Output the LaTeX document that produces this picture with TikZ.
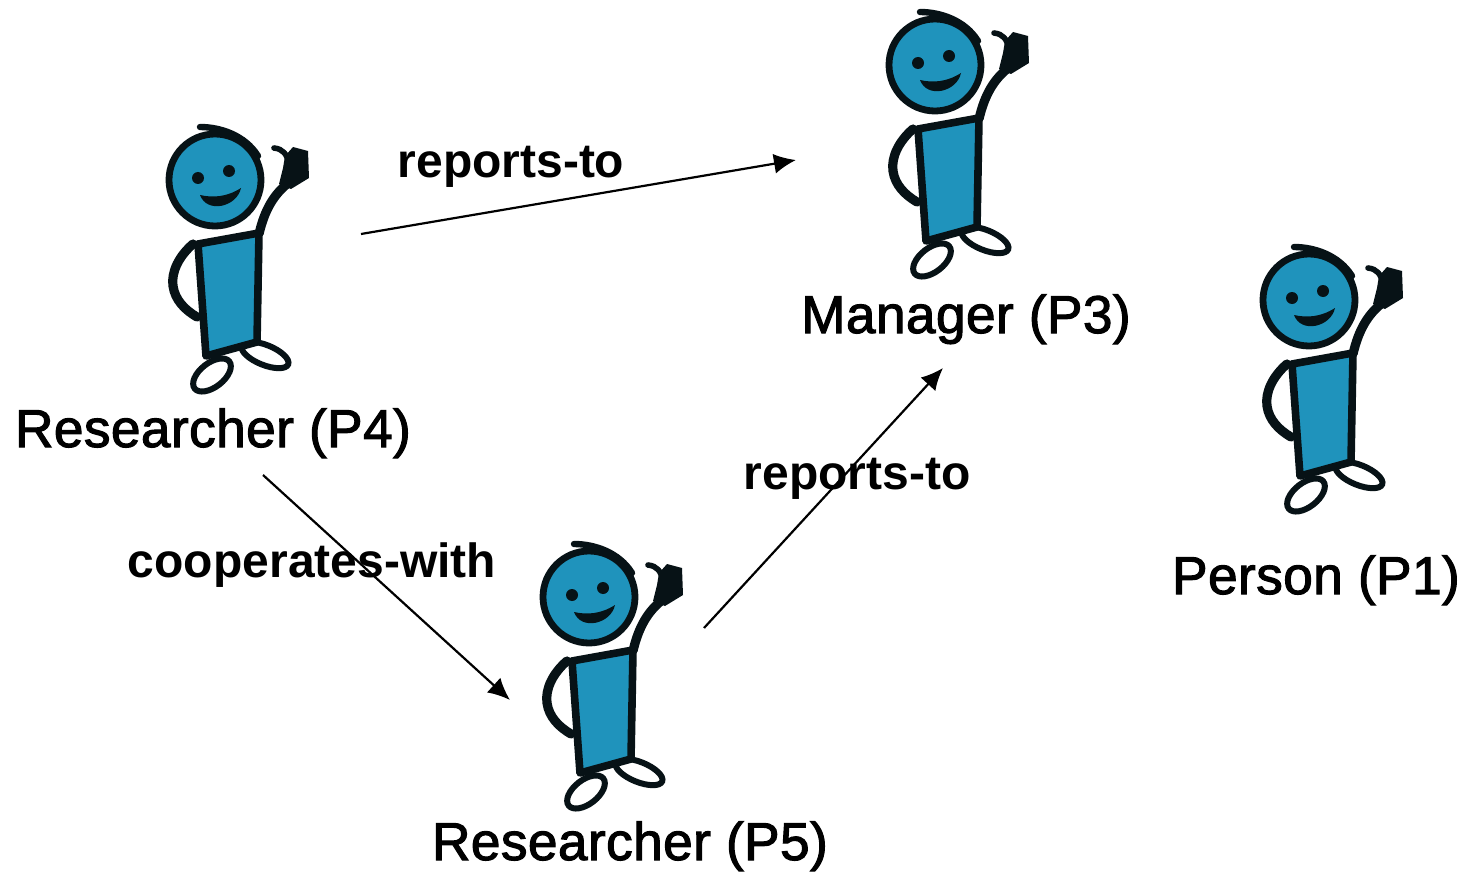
\documentclass[tikz,border=0pt]{standalone}
\usepackage{fontspec}
\setmainfont{Liberation Sans}
\newfontfamily\rolefont[RawFeature={embolden=2}, LetterSpace=0.8]{Liberation Sans}
\usetikzlibrary{arrows.meta, positioning}
\definecolor{figblue}{HTML}{1F93BC}
\definecolor{figdark}{HTML}{071216}
\tikzset{
  arrow/.style={-{Latex[length=11pt,width=10pt]}, line width=1.1pt, black},
  rolelabel/.style={font=\rolefont\fontsize{26.6}{27}\selectfont, text=black, inner sep=0pt, anchor=base},
  linklabel/.style={font=\fontsize{24}{24}\selectfont\bfseries, text=black, inner sep=0pt, anchor=base},
  person/.pic={
    % hair
    \draw[figdark, line width=3.2pt, line cap=round] (-15,53) .. controls (5,53) and (30,45) .. (43,24);
    % head
    \draw[figdark, fill=figblue, line width=3.4pt] (0,0) circle (46);
    \fill[figdark] (-17,2) circle (6) (14,9) circle (6);
    \fill[figdark] (-15,-15) .. controls (-2,-18) and (12,-17) .. (26,-8) .. controls (22,-27) and (-8,-34) .. (-15,-15) -- cycle;
    % waving arm and hand
    \draw[figdark, line width=4.6pt] (44,-54) .. controls (50,-28) and (60,-14) .. (72,-4);
    \draw[figdark, line width=2.8pt, line cap=round] (59,32) .. controls (68,31) and (72,26) .. (74,16);
    \fill[figdark] (70,24) -- (78,33) -- (93,29) -- (94,2) -- (76,-9) -- (64,-4) -- (68,12) -- cycle;
    % other arm
    \draw[figdark, line width=4.6pt, line cap=round] (-22,-64) .. controls (-36,-76) and (-44,-92) .. (-42,-106) .. controls (-40,-120) and (-30,-130) .. (-18,-137);
    % feet
    \draw[figdark, fill=white, line width=3pt, rotate around={38:(-3,-195)}] (-3,-195) ellipse (22 and 12);
    \draw[figdark, fill=white, line width=3pt, rotate around={-22:(50,-175)}] (50,-175) ellipse (25 and 10);
    % body
    \draw[figdark, fill=figblue, line width=3.8pt, line join=round] (-17,-64) -- (44,-53) -- (42,-162) -- (-9,-176) -- cycle;
  }
}
\begin{document}
\begin{tikzpicture}[x=0.5pt, y=-0.5pt]
\useasboundingbox (0,0) rectangle (1463,872);

% People
\begin{scope}[y=0.5pt]
\pic at (215,-180) {person};
\pic at (935,-65) {person};
\pic at (1309,-300) {person};
\pic at (589,-597) {person};
\end{scope}

% Roles
\node[rolelabel] (researcherfour) at (213,447) {Researcher (P4)};
\node[rolelabel] (manager) at (966,333) {Manager (P3)};
\node[rolelabel] (person) at (1316,594) {Person (P1)};
\node[rolelabel] (researcherfive) at (630,860) {Researcher (P5)};

% Link ends
\coordinate (fourout) at (361,234);
\coordinate (managerin) at (796,160);
\coordinate (fourdown) at (263,475);
\coordinate (fivein) at (510,700);
\coordinate (fiveout) at (704,628);
\coordinate (managerdown) at (943,368);

% Connections
\draw[arrow] (fourout) -- (managerin);
\draw[arrow] (fourdown) -- (fivein);
\draw[arrow] (fiveout) -- (managerdown);

% Labels
\node[linklabel] (reportsone) at (511,177) {reports-to};
\node[linklabel] (reportstwo) at (857,489) {reports-to};
\node[linklabel] (cooperates) at (312,577) {cooperates-with};

\end{tikzpicture}
\end{document}
